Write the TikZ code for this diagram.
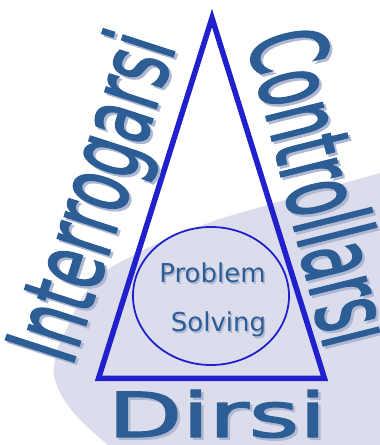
\documentclass[tikz,border=0pt]{standalone}
\usepackage{fontspec}
\setmainfont{DejaVu Sans}
\newfontfamily\heavyfont{DejaVu Sans}[FakeBold=2]
\usepackage{xcolor}
\definecolor{triblue}{HTML}{2020CC}
\definecolor{wordblue}{HTML}{2C5D95}
\definecolor{wordshade}{HTML}{AEB8D2}
\definecolor{swoosh}{HTML}{DCDDEC}
\usepackage{tikz}
\usetikzlibrary{positioning}

\begin{document}
\begin{tikzpicture}[
  x=1pt, y=1pt,
  edge/.style={draw=triblue, line width=5.5pt, line join=miter},
  ring/.style={draw=triblue, line width=1.8pt},
  word/.style={text=wordblue, inner sep=0pt, anchor=base},
  shade/.style={text=wordshade, inner sep=0pt, anchor=base},
  left side/.style={font=\heavyfont\fontsize{98}{98}\selectfont, rotate=72, xscale=0.595},
  right side/.style={font=\heavyfont\fontsize{105}{105}\selectfont, rotate=-76, xscale=0.534},
  foot/.style={font=\heavyfont\fontsize{62}{62}\selectfont, xscale=1.56},
  core/.style={font=\fontsize{26}{26}\selectfont},
]
  \fill[white] (0,0) rectangle (380,445);
  \useasboundingbox (0,0) rectangle (380,445);
  % background swoosh
  \fill[swoosh] plot[smooth, tension=0.7] coordinates {(108,0) (74,32) (56,62) (55,85) (63,108) (93,162) (140,193) (203,220) (257,237) (380,272)} -- (380,0) -- cycle;
  % triangle and circle
  \coordinate (apex) at (212,427);
  \coordinate (botL) at (98.5,66.5);
  \coordinate (botR) at (324.5,66.5);
  \draw[ring] (211,149) ellipse [x radius=78, y radius=69];
  \draw[edge] (apex) -- (botR) -- (botL) -- cycle;
  % words
  \node[shade, left side] (inter-sh) at (126.5,235.5) {Interrogarsi};
  \node[word, left side] (inter) at (124,238) {Interrogarsi};
  \node[shade, right side] (contr-sh) at (288.5,247) {Controllarsi};
  \node[word, right side] (contr) at (286,249.5) {Controllarsi};
  \node[shade, foot] (dirsi-sh) at (219.5,5.5) {Dirsi};
  \node[word, foot] (dirsi) at (217,8) {Dirsi};
  \node[shade, core] (prob-sh) at (214,160) {Problem};
  \node[word, core] (prob) at (212.5,162) {Problem};
  \node[shade, core] (solv-sh) at (220,111) {Solving};
  \node[word, core] (solv) at (218.5,113) {Solving};
\end{tikzpicture}
\end{document}
